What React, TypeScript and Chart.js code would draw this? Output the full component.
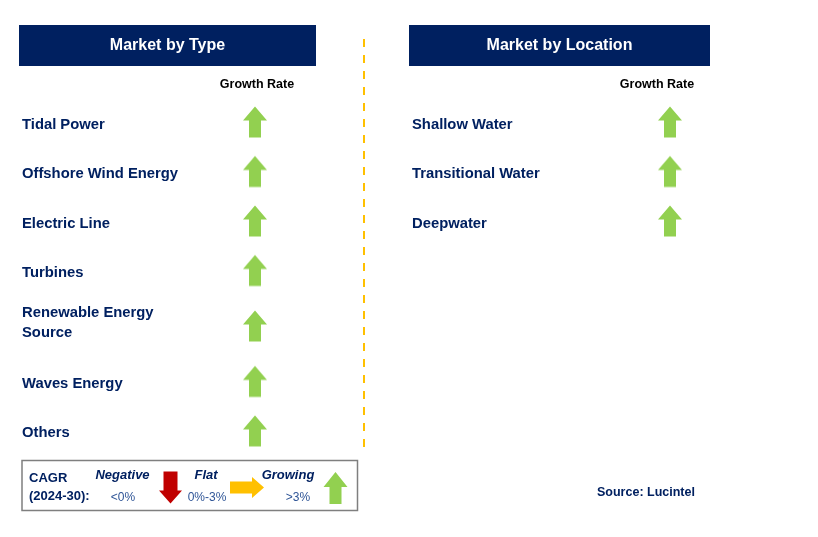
import React, { useEffect, useRef } from "react";
import { Chart, registerables } from "chart.js";

Chart.register(...registerables);

// ---- data ----
const panelTitles = ["Market by Type", "Market by Location"];
const typeCategories = [
  "Tidal Power",
  "Offshore Wind Energy",
  "Electric Line",
  "Turbines",
  "Renewable Energy Source",
  "Waves Energy",
  "Others",
];
const typeGrowth = ["growing", "growing", "growing", "growing", "growing", "growing", "growing"];
const locationCategories = ["Shallow Water", "Transitional Water", "Deepwater"];
const locationGrowth = ["growing", "growing", "growing"];
const columnHeader = "Growth Rate";
const legendTitle = ["CAGR", "(2024-30):"];
const legendNames = ["Negative", "Flat", "Growing"];
const legendRanges = ["<0%", "0%-3%", ">3%"];
const sourceText = "Source: Lucintel";

// ---- styles ----
const NAVY = "#002060";
const GREEN = "#92D050";
const RED = "#C00000";
const YELLOW = "#FFC000";
const LABEL_FONT = "bold 14.8px 'Liberation Sans', Arial, sans-serif";
const WRAP_WIDTH = 172;

function wrapText(ctx: CanvasRenderingContext2D, text: string, maxW: number): string[] {
  const words = text.split(" ");
  const lines: string[] = [];
  let cur = "";
  for (const w of words) {
    const t = cur ? cur + " " + w : w;
    if (ctx.measureText(t).width > maxW && cur) {
      lines.push(cur);
      cur = w;
    } else cur = t;
  }
  if (cur) lines.push(cur);
  return lines;
}

// row centres derived from the number of wrapped lines of each label
function rowPositions(lineCounts: number[]): number[] {
  const out: number[] = [];
  let acc = 0;
  for (const n of lineCounts) {
    const h = 1 + 0.24 * (n - 1);
    out.push(acc + h / 2);
    acc += h;
  }
  return out;
}

function arrowPath(
  ctx: CanvasRenderingContext2D,
  cx: number,
  cy: number,
  dir: string,
  len: number,
  width: number,
  head: number,
  shaft: number
) {
  ctx.save();
  ctx.translate(cx, cy);
  const rot = dir === "up" ? 0 : dir === "down" ? Math.PI : Math.PI / 2;
  ctx.rotate(rot);
  const top = -len / 2;
  const bot = len / 2;
  ctx.beginPath();
  ctx.moveTo(0, top);
  ctx.lineTo(width / 2, top + head);
  ctx.lineTo(shaft / 2, top + head);
  ctx.lineTo(shaft / 2, bot);
  ctx.lineTo(-shaft / 2, bot);
  ctx.lineTo(-shaft / 2, top + head);
  ctx.lineTo(-width / 2, top + head);
  ctx.closePath();
  ctx.fill();
  ctx.restore();
}

function makeArrowImage(kind: string): HTMLCanvasElement {
  const c = document.createElement("canvas");
  c.width = 26;
  c.height = 34;
  const ctx = c.getContext("2d")!;
  const color = kind === "growing" ? GREEN : kind === "negative" ? RED : YELLOW;
  const dir = kind === "growing" ? "up" : kind === "negative" ? "down" : "right";
  ctx.fillStyle = color;
  arrowPath(ctx, 13, 17, dir, 31, 24, 14, 12);
  return c;
}

export default function App() {
  const ref = useRef<HTMLCanvasElement | null>(null);

  useEffect(() => {
    document.body.style.margin = "0";
    const canvas = ref.current!;
    const mctx = canvas.getContext("2d")!;
    mctx.font = LABEL_FONT;
    const typeLines = typeCategories.map((t) => wrapText(mctx, t, WRAP_WIDTH));
    const locLines = locationCategories.map((t) => wrapText(mctx, t, WRAP_WIDTH));
    const typeY = rowPositions(typeLines.map((l) => l.length));
    const locY = rowPositions(locLines.map((l) => l.length));

    const images: Record<string, HTMLCanvasElement> = {
      growing: makeArrowImage("growing"),
      flat: makeArrowImage("flat"),
      negative: makeArrowImage("negative"),
    };

    const panels = [
      { lines: typeLines, ys: typeY, growth: typeGrowth },
      { lines: locLines, ys: locY, growth: locationGrowth },
    ];

    const layout = {
      headerLeft: [19, 409],
      headerW: [297, 301],
      headerTop: 25,
      headerH: 41,
      labelX: [22, 412],
      growthX: [257, 657],
    };

    const decor = {
      id: "decor",
      beforeDatasetsDraw(chart: any) {
        const ctx: CanvasRenderingContext2D = chart.ctx;
        const ys = chart.scales.y;
        ctx.save();
        ctx.fillStyle = "#fff";
        ctx.fillRect(0, 0, chart.width, chart.height);
        // headers
        panelTitles.forEach((t, i) => {
          ctx.fillStyle = NAVY;
          ctx.fillRect(layout.headerLeft[i], layout.headerTop, layout.headerW[i], layout.headerH);
          ctx.fillStyle = "#fff";
          ctx.font = "bold 16px 'Liberation Sans', Arial, sans-serif";
          ctx.textAlign = "center";
          ctx.textBaseline = "middle";
          ctx.fillText(t, layout.headerLeft[i] + layout.headerW[i] / 2, layout.headerTop + layout.headerH / 2 + 0.5);
          ctx.fillStyle = "#000";
          ctx.font = "bold 12.5px 'Liberation Sans', Arial, sans-serif";
          ctx.fillText(columnHeader, layout.growthX[i], 85);
        });
        // row labels
        ctx.font = LABEL_FONT;
        ctx.fillStyle = NAVY;
        ctx.textAlign = "left";
        ctx.textBaseline = "middle";
        panels.forEach((p, i) => {
          p.lines.forEach((lines, r) => {
            const cy = ys.getPixelForValue(p.ys[r]) + 2.5 - 5.5 * (lines.length - 1);
            const lh = 20;
            lines.forEach((ln, k) => {
              ctx.fillText(ln, layout.labelX[i], cy + (k - (lines.length - 1) / 2) * lh);
            });
          });
        });
        // dashed divider
        ctx.strokeStyle = YELLOW;
        ctx.lineWidth = 2;
        ctx.setLineDash([8, 8]);
        ctx.beginPath();
        ctx.moveTo(364, 39);
        ctx.lineTo(364, 453);
        ctx.stroke();
        ctx.setLineDash([]);
        // legend box
        ctx.strokeStyle = "#7F7F7F";
        ctx.lineWidth = 1.5;
        ctx.strokeRect(22, 460.5, 335.5, 50);
        ctx.fillStyle = NAVY;
        ctx.font = "bold 13px 'Liberation Sans', Arial, sans-serif";
        ctx.textAlign = "left";
        ctx.fillText(legendTitle[0], 29, 478);
        ctx.fillText(legendTitle[1], 29, 496);
        const nameX = [122.5, 206, 288];
        const rangeX = [123, 207, 298];
        ctx.font = "italic bold 13px 'Liberation Sans', Arial, sans-serif";
        ctx.textAlign = "center";
        legendNames.forEach((n, i) => ctx.fillText(n, nameX[i], 475));
        ctx.font = "12px 'Liberation Sans', Arial, sans-serif";
        ctx.fillStyle = "#2F5597";
        legendRanges.forEach((n, i) => ctx.fillText(n, rangeX[i], 498));
        // legend arrows
        ctx.fillStyle = RED;
        arrowPath(ctx, 170.5, 487.5, "down", 32, 23, 13, 14);
        ctx.fillStyle = YELLOW;
        arrowPath(ctx, 247, 487.5, "right", 34, 21, 12, 12);
        ctx.fillStyle = GREEN;
        arrowPath(ctx, 335.5, 488, "up", 32, 24, 15, 12);
        // source
        ctx.fillStyle = NAVY;
        ctx.font = "bold 12.5px 'Liberation Sans', Arial, sans-serif";
        ctx.textAlign = "left";
        ctx.fillText(sourceText, 597, 493);
        ctx.restore();
      },
    };

    const datasets = panels.map((p, i) => ({
      label: panelTitles[i],
      data: p.ys.map((y) => ({ x: i, y })),
      pointStyle: p.growth.map((g) => images[g]) as any,
      pointRadius: 13,
      showLine: false,
    }));

    // scale ranges chosen so panel 0/1 and row unit map onto the page layout
    const xUnit = 415;
    const xMin = -255 / xUnit;
    const yUnit = 49.5;
    const yMin = 0.5 - 122 / yUnit;

    const chart = new Chart(canvas, {
      type: "scatter",
      data: { datasets },
      options: {
        animation: false,
        responsive: false,
        events: [],
        layout: { padding: 0, autoPadding: false },
        plugins: { legend: { display: false }, tooltip: { enabled: false } },
        scales: {
          x: { type: "linear", display: false, min: xMin, max: xMin + 818 / xUnit },
          y: { type: "linear", display: false, reverse: true, min: yMin, max: yMin + 537 / yUnit },
        },
      },
      plugins: [decor],
    });
    return () => chart.destroy();
  }, []);

  return (
    <div style={{ width: 818, height: 537 }}>
      <canvas ref={ref} width={818} height={537} style={{ display: "block" }} />
    </div>
  );
}
